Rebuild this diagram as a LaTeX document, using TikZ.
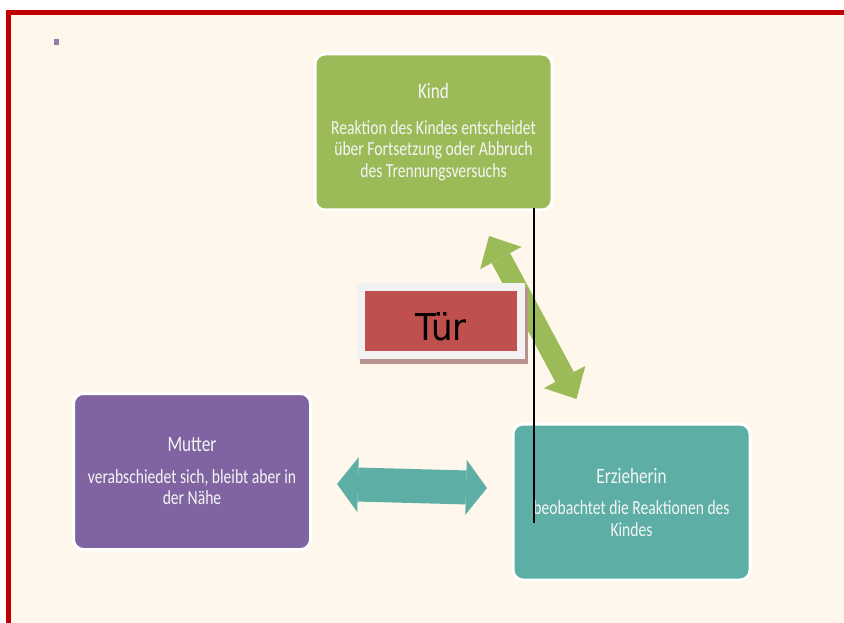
\documentclass[tikz,border=0pt]{standalone}
\usepackage{fontspec}
\setmainfont{Carlito}
\newfontfamily\boxfont[FakeStretch=0.78]{Carlito}
\newfontfamily\doorfont[FakeStretch=0.92]{DejaVu Sans}
\usetikzlibrary{positioning,arrows.meta,calc}
\definecolor{kindgreen}{HTML}{9BBB59}
\definecolor{mutterpurple}{HTML}{8064A2}
\definecolor{erzteal}{HTML}{5DAFA6}
\definecolor{doorred}{HTML}{C0504D}
\definecolor{doorrim}{HTML}{F2F2F2}
\definecolor{doorshade}{HTML}{B8928D}
\definecolor{pagecream}{HTML}{FFF7EB}
\definecolor{framered}{HTML}{C00000}
\tikzset{
  rolebox/.style={draw=white,line width=3pt,rounded corners=10pt,
    minimum width=237pt,minimum height=156pt,inner sep=2pt,text=white!96!black,
    align=center,font=\boxfont\fontsize{20}{21.5}\selectfont},
  doorshadow/.style={draw=doorshade,fill=doorshade,
    transform canvas={xshift=3pt,yshift=-5pt}},
  doorbox/.style={fill=doorred,draw=doorrim,line width=8pt,minimum width=160pt,
    minimum height=68pt,inner sep=0pt,text height=38pt,text depth=0pt,
    preaction={doorshadow},font=\doorfont\fontsize{37}{40}\selectfont},
  greenflow/.style={draw=kindgreen,line width=21pt,
    {Triangle[length=25pt,width=47pt,line width=0pt]}-{Triangle[length=25pt,width=47pt,line width=0pt]}},
  tealflow/.style={draw=erzteal,line width=34pt,
    {Triangle[length=21pt,width=55pt,line width=0pt]}-{Triangle[length=21pt,width=55pt,line width=0pt]}},
  divider/.style={draw=black,line width=1.6pt},
  speck/.style={fill=mutterpurple!85,minimum width=5pt,minimum height=6pt,inner sep=0pt},
}
\begin{document}
\begin{tikzpicture}[x=1pt,y=-1pt]
  \useasboundingbox (0,0) rectangle (844,623);
  \fill[white] (0,0) rectangle (844,623);
  \fill[framered] (6,10) rectangle (844,623);
  \fill[pagecream] (11,15) rectangle (844,623);
  \node[speck] (speck) at (56.5,42) {};

  \node[rolebox,fill=kindgreen] (kind) at (433.5,132)
    {{\fontsize{22}{24}\selectfont Kind}\\[14pt]Reaktion des Kindes entscheidet\\
     über Fortsetzung oder Abbruch\\des Trennungsversuchs};
  \node[rolebox,fill=mutterpurple] (mutter) at (192,471.5)
    {{\fontsize{22}{24}\selectfont Mutter}\\[10pt]verabschiedet sich, bleibt aber in\\der Nähe};
  \node[rolebox,fill=erzteal] (erz) at (631.5,502)
    {{\fontsize{22}{24}\selectfont Erzieherin}\\[10pt]beobachtet die Reaktionen des\\Kindes};

  \draw[greenflow,shorten <=27.8pt,shorten >=26.6pt] (kind) -- (erz);
  \draw[tealflow] ($(mutter.east)+(25,12.5)$) -- ($(erz.west)+(-24.5,-14)$);

  \node[doorbox] (tuer) at (441,321) {Tür};

  \coordinate (cuttop) at ($(kind.south east)+(-19.5,-3.5)$);
  \coordinate (cutend) at ($(erz.north west)+(22.5,100.5)$);
  \draw[divider] (cuttop) -- (cutend);
\end{tikzpicture}
\end{document}
